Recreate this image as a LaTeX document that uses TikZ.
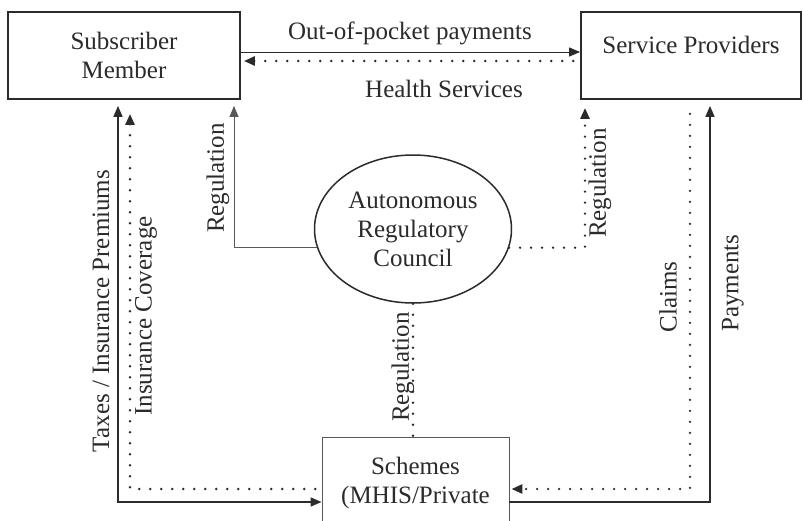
\documentclass[tikz,border=0pt]{standalone}
\usepackage{fontspec}
\setmainfont{Liberation Serif}
\usetikzlibrary{arrows.meta,shapes.geometric}
\definecolor{ink}{rgb}{0.17,0.17,0.17}
\definecolor{inkl}{rgb}{0.35,0.35,0.35}
\begin{document}
\begin{tikzpicture}[x=1pt,y=-1pt,
  every node/.style={text=ink,font=\fontsize{25}{29}\selectfont},
  boxA/.style={draw=ink,line width=1.8pt,rectangle,inner sep=0pt},
  boxB/.style={draw=inkl,line width=0.9pt,rectangle,inner sep=0pt,align=center},
  council/.style={draw=ink,line width=1.5pt,ellipse,inner sep=0pt,align=center,minimum width=197pt,minimum height=148pt},
  tip/.style={-{Triangle[length=11pt,width=9pt]}},
  rtip/.style={{Triangle[length=11pt,width=9pt]}-},
  btip/.style={{Triangle[length=11pt,width=9pt]}-{Triangle[length=11pt,width=9pt]}},
  solidln/.style={draw=ink,line width=1.6pt},
  thinln/.style={draw=ink,line width=1pt},
  hairln/.style={draw=inkl,line width=0.7pt},
  dots/.style={draw=ink,line width=2.6pt,line cap=round,dash pattern=on 0pt off 11pt},
  vlabel/.style={rotate=90,inner sep=0pt}
]
\useasboundingbox[fill=white] (0,0) rectangle (803,520);

% main nodes
\node[boxA,minimum width=232pt,minimum height=87pt,align=center] (sub) at (124,55.5) {Subscriber\\Member};
\node[boxA,minimum width=220pt,minimum height=87pt,
  label={[name=spt,anchor=base,inner sep=0pt,yshift=-42pt]north:Service Providers}] (sp) at (691,55.5) {};
\node[council] (ell) at (413,229) {Autonomous\\Regulatory\\Council};
\node[boxB,minimum width=187pt,minimum height=92pt] (sch) at (415.5,483) {Schemes\\(MHIS/Private};

% labels
\node[inner sep=0pt] (oop) at (410,33) {Out-of-pocket payments};
\node[inner sep=0pt] (hs) at (444,89) {Health Services};
\node[vlabel] (taxes) at (101,311) {Taxes / Insurance Premiums};
\node[vlabel] (cov) at (146,316) {Insurance Coverage};
\node[vlabel] (regl) at (218,178) {Regulation};
\node[vlabel] (regr) at (600,183) {Regulation};
\node[vlabel] (regc) at (403,367) {Regulation};
\node[vlabel] (claims) at (668,297) {Claims};
\node[vlabel] (pay) at (733,283) {Payments};

% top connectors
\draw[thinln,tip] (sub.east |- 0,52) -- (sp.west |- 0,52);
\draw[dots,rtip,shorten <=3pt] (sub.east |- 0,61) -- (sp.west |- 0,61);

% left connectors
\draw[solidln,btip,shorten <=6pt] (sub.south -| 118,0) -- (118,502) -- (sch.west |- 0,502);
\draw[dots,rtip,shorten <=14pt] (sub.south -| 130,0) -- (130,489) -- (sch.west |- 0,489);

% regulation connectors
\draw[hairln,tip,shorten >=6pt] (ell.191) -| (sub.south -| 234,0);
\draw[dots,tip,shorten >=8pt] (ell.349) -| (sp.south -| 585,0);
\draw[dots] (ell.south) -- (ell.south |- sch.north);

% right connectors
\draw[dots,tip,shorten <=14pt,shorten >=2pt] (sp.south -| 690,0) -- (690,489) -- (sch.east |- 0,489);
\draw[solidln,tip,shorten >=6pt] (sch.east |- 0,502) -- (710,502) -- (sp.south -| 710,0);
\end{tikzpicture}
\end{document}
